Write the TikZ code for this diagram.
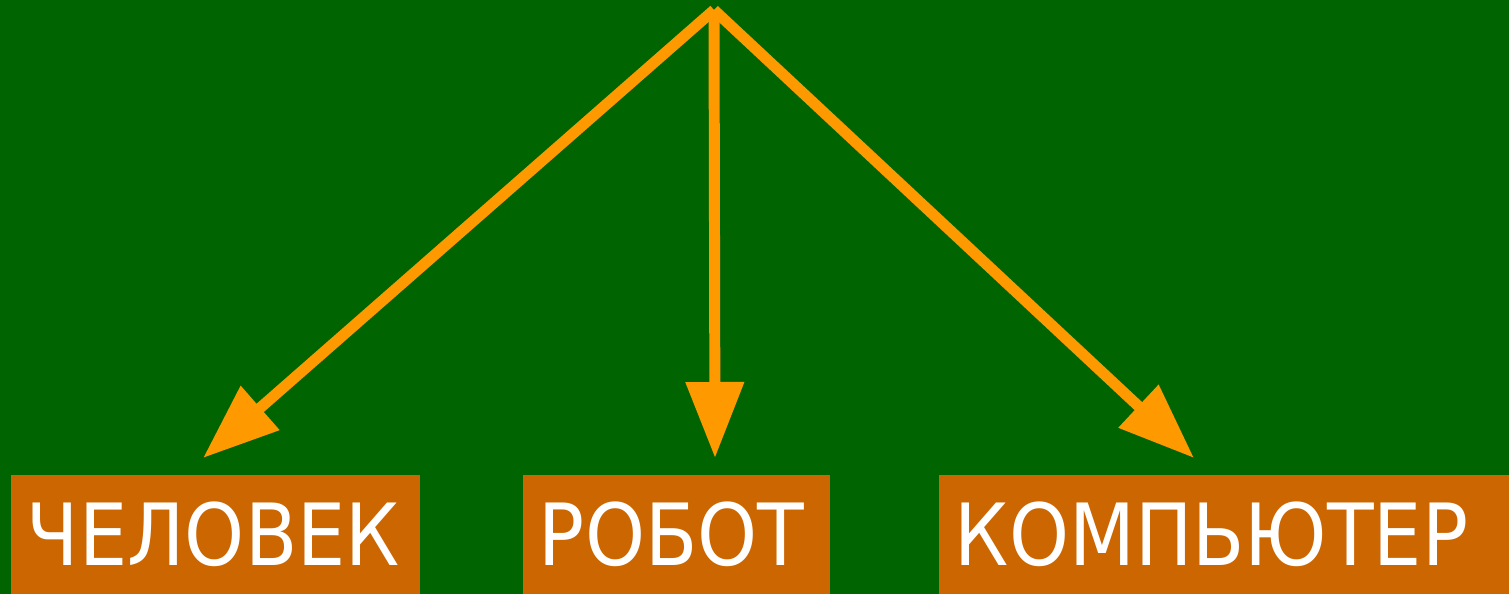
\documentclass[tikz,border=0pt]{standalone}
\usepackage{fontspec}
\setmainfont{DejaVu Sans}[FakeStretch=0.89]
\usetikzlibrary{arrows.meta}

\definecolor{board}{RGB}{0,100,0}
\definecolor{plate}{RGB}{204,102,0}
\definecolor{ray}{RGB}{255,153,0}

\tikzset{word/.style={fill=plate,text=white,inner xsep=0.4cm,inner ysep=0pt,align=left,minimum height=2.975cm,font=\fontsize{61}{70}\selectfont}}
\tikzset{ray/.style={draw=ray,line width=7.8pt,-{Triangle[length=1.9cm,width=1.4cm]}}}

\begin{document}
\begin{tikzpicture}[x=0.025cm,y=0.025cm]

	\fill[board] (0,0) rectangle (1509,594);
	\useasboundingbox (0,0) rectangle (1509,594);

	% the three words
	\node[word,text width=9.425cm] (human) at (215.5,59.5) {ЧЕЛОВЕК};
	\node[word,text width=6.875cm] (robot) at (676.5,59.5) {РОБОТ};
	\node[word,text width=13.45cm] (computer) at (1224,59.5) {КОМПЬЮТЕР};

	% where the rays start and stop
	\coordinate (top) at (714,584);
	\coordinate (humantip) at (203,136);
	\coordinate (robottip) at (715,136);
	\coordinate (computertip) at (1194,136);

	\path[ray] (top) -- (humantip);
	\path[ray] (top) -- (robottip);
	\path[ray] (top) -- (computertip);

\end{tikzpicture}
\end{document}
